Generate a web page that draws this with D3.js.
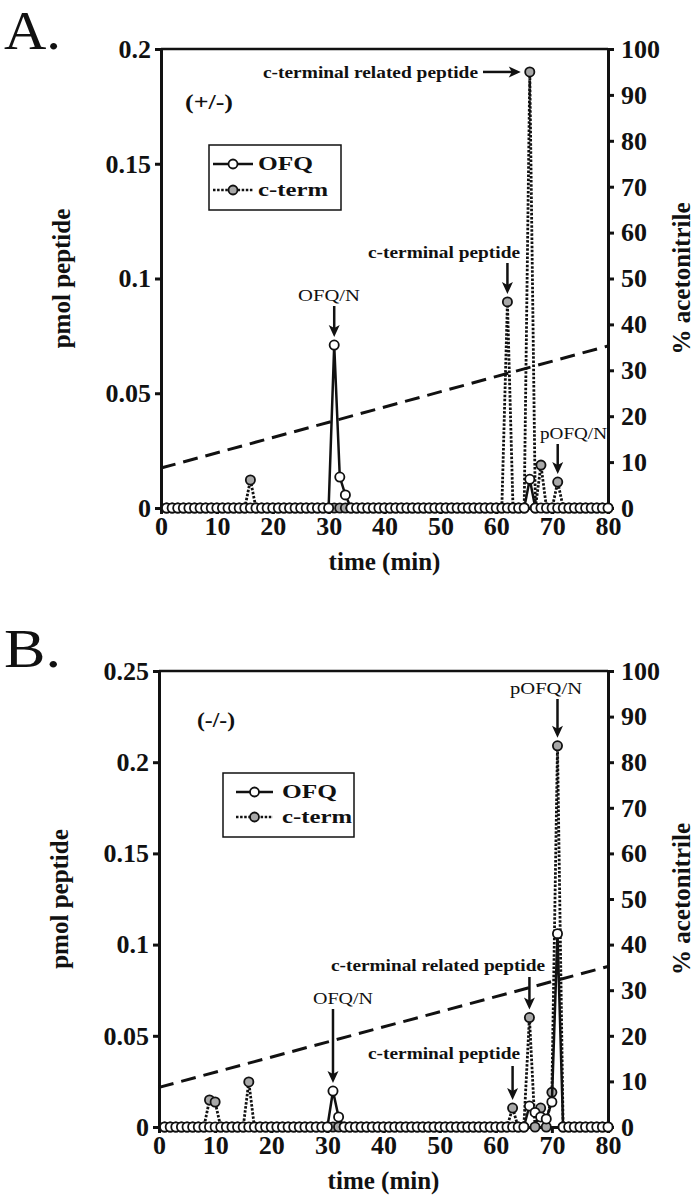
<!DOCTYPE html>
<meta charset="utf-8">
<style>
body { margin: 0; background: #fff; }
svg { display: block; background: #fff; }
text { font-family: "Liberation Serif", "Times New Roman", serif; fill: #111; }
.axis text { font-size: 26px; font-weight: bold; fill: #111; }
.axis path, .axis line { stroke: #111; }
</style>
<body>
<svg id="fig" width="697" height="1199"></svg>
<script src="https://d3js.org/d3.v7.min.js"></script>
<script>

// fraction times (min)
var minutes = [
  1, 2, 3, 4, 5, 6, 7, 8, 9, 10,
  11, 12, 13, 14, 15, 16, 17, 18, 19, 20,
  21, 22, 23, 24, 25, 26, 27, 28, 29, 30,
  31, 32, 33, 34, 35, 36, 37, 38, 39, 40,
  41, 42, 43, 44, 45, 46, 47, 48, 49, 50,
  51, 52, 53, 54, 55, 56, 57, 58, 59, 60,
  61, 62, 63, 64, 65, 66, 67, 68, 69, 70,
  71, 72, 73, 74, 75, 76, 77, 78, 79, 80
];

// panel A (+/-), pmol peptide
var ofqA = [
  0, 0, 0, 0, 0, 0, 0, 0, 0, 0,
  0, 0, 0, 0, 0, 0, 0, 0, 0, 0,
  0, 0, 0, 0, 0, 0, 0, 0, 0, 0,
  0.071, 0.0135, 0.0057, 0, 0, 0, 0, 0, 0, 0,
  0, 0, 0, 0, 0, 0, 0, 0, 0, 0,
  0, 0, 0, 0, 0, 0, 0, 0, 0, 0,
  0, 0, 0, 0, 0, 0.0125, 0, 0, 0, 0,
  0, 0, 0, 0, 0, 0, 0, 0, 0, 0
];
var ctermA = [
  0, 0, 0, 0, 0, 0, 0, 0, 0, 0,
  0, 0, 0, 0, 0, 0.0122, 0, 0, 0, 0,
  0, 0, 0, 0, 0, 0, 0, 0, 0, 0,
  0, 0, 0, 0, 0, 0, 0, 0, 0, 0,
  0, 0, 0, 0, 0, 0, 0, 0, 0, 0,
  0, 0, 0, 0, 0, 0, 0, 0, 0, 0,
  0, 0.0898, 0, 0, 0, 0.19, 0, 0.0187, 0, 0,
  0.0113, 0, 0, 0, 0, 0, 0, 0, 0, 0
];

// panel B (-/-)
var ofqB = [
  0, 0, 0, 0, 0, 0, 0, 0, 0, 0,
  0, 0, 0, 0, 0, 0, 0, 0, 0, 0,
  0, 0, 0, 0, 0, 0, 0, 0, 0, 0,
  0.0197, 0.0055, 0, 0, 0, 0, 0, 0, 0, 0,
  0, 0, 0, 0, 0, 0, 0, 0, 0, 0,
  0, 0, 0, 0, 0, 0, 0, 0, 0, 0,
  0, 0, 0, 0, 0, 0.0115, 0.008, 0.0055, 0.0044, 0.0137,
  0.106, 0, 0, 0, 0, 0, 0, 0, 0, 0
];
var ctermB = [
  0, 0, 0, 0, 0, 0, 0, 0, 0.0148, 0.0137,
  0, 0, 0, 0, 0, 0.0247, 0, 0, 0, 0,
  0, 0, 0, 0, 0, 0, 0, 0, 0, 0,
  0, 0, 0, 0, 0, 0, 0, 0, 0, 0,
  0, 0, 0, 0, 0, 0, 0, 0, 0, 0,
  0, 0, 0, 0, 0, 0, 0, 0, 0, 0,
  0, 0, 0.0104, 0, 0, 0.060, 0, 0.0104, 0, 0.019,
  0.209, 0, 0, 0, 0, 0, 0, 0, 0, 0
];

// acetonitrile gradient (% , right axis)
var gradTime = [0, 80];
var gradA = [8.7, 35.3];
var gradB = [8.7, 35.2];

var timeTicks = [0, 10, 20, 30, 40, 50, 60, 70, 80];
var pctTicks = [0, 10, 20, 30, 40, 50, 60, 70, 80, 90, 100];
var pmolTicksA = [0, 0.05, 0.1, 0.15, 0.2];
var pmolTicksB = [0, 0.05, 0.1, 0.15, 0.2, 0.25];

var svg = d3.select("#fig");

function drawPanel(cfg) {
  var x = d3.scaleLinear().domain([0, 80]).range([cfg.left, cfg.right]);
  var y = d3.scaleLinear().domain([0, cfg.yMax]).range([cfg.bottom, cfg.top]);
  var y2 = d3.scaleLinear().domain([0, 100]).range([cfg.bottom, cfg.top]);
  var g = svg.append("g");

  // panel letter
  g.append("text").attr("x", 4).attr("y", cfg.letterY)
    .style("font-size", "54px").attr("textLength", 57).attr("lengthAdjust", "spacingAndGlyphs")
    .text(cfg.letter);

  // frame top line
  g.append("line").attr("x1", cfg.left).attr("x2", cfg.right)
    .attr("y1", cfg.top).attr("y2", cfg.top)
    .attr("stroke", "#111").attr("stroke-width", 2.5);

  var fmt = function(d) { return d === 0 ? "0" : String(+d.toFixed(2)); };

  var ax = g.append("g").attr("class", "axis")
    .attr("transform", "translate(0," + cfg.bottom + ")")
    .call(d3.axisBottom(x).tickValues(timeTicks).tickSize(6).tickSizeOuter(0).tickPadding(3));
  var ay = g.append("g").attr("class", "axis")
    .attr("transform", "translate(" + cfg.left + ",0)")
    .call(d3.axisLeft(y).tickValues(cfg.yTicks).tickFormat(fmt).tickSize(6).tickSizeOuter(0).tickPadding(4));
  var ay2 = g.append("g").attr("class", "axis")
    .attr("transform", "translate(" + cfg.right + ",0)")
    .call(d3.axisRight(y2).tickValues(pctTicks).tickSize(6).tickSizeOuter(0).tickPadding(7));
  [ax, ay, ay2].forEach(function(a) {
    a.select(".domain").attr("stroke-width", 3);
    a.selectAll(".tick line").attr("stroke-width", 3);
  });

  // axis titles
  g.append("text")
    .attr("transform", "translate(" + cfg.yTitleX + "," + ((cfg.top + cfg.bottom) / 2) + ") rotate(-90)")
    .attr("text-anchor", "middle").style("font-size", "25px").style("font-weight", "bold")
    .text("pmol peptide");
  g.append("text")
    .attr("transform", "translate(" + cfg.y2TitleX + "," + ((cfg.top + cfg.bottom) / 2) + ") rotate(-90)")
    .attr("text-anchor", "middle").style("font-size", "25px").style("font-weight", "bold")
    .text("% acetonitrile");
  g.append("text")
    .attr("x", (cfg.left + cfg.right) / 2).attr("y", cfg.bottom + 62)
    .attr("text-anchor", "middle").style("font-size", "25px").style("font-weight", "bold")
    .text("time (min)");

  // genotype
  g.append("text").attr("x", cfg.genoX).attr("y", cfg.genoY)
    .style("font-size", "21px").style("font-weight", "bold")
    .attr("textLength", cfg.genoW).attr("lengthAdjust", "spacingAndGlyphs")
    .text(cfg.geno);

  // gradient
  var grad = gradTime.map(function(t, i) { return [t, cfg.grad[i]]; });
  g.append("path").datum(grad)
    .attr("fill", "none").attr("stroke", "#111").attr("stroke-width", 3)
    .attr("stroke-dasharray", "15,8")
    .attr("d", d3.line().x(function(d) { return x(d[0]); }).y(function(d) { return y2(d[1]); }));

  var line = d3.line().x(function(d) { return x(d[0]); }).y(function(d) { return y(d[1]); });
  var cterm = minutes.map(function(t, i) { return [t, cfg.cterm[i]]; });
  var ofq = minutes.map(function(t, i) { return [t, cfg.ofq[i]]; });

  // c-term: dotted line with grey dots
  g.append("path").datum(cterm)
    .attr("fill", "none").attr("stroke", "#111").attr("stroke-width", 2.8)
    .attr("stroke-dasharray", "2.5,1.6").attr("d", line);
  g.selectAll(".ct").data(cterm).enter().append("circle")
    .attr("cx", function(d) { return x(d[0]); })
    .attr("cy", function(d) { return y(d[1]); })
    .attr("r", 4.6).attr("fill", "#a8a8a8").attr("stroke", "#111").attr("stroke-width", 1.8);

  // OFQ: solid line with open dots
  g.append("path").datum(ofq)
    .attr("fill", "none").attr("stroke", "#111").attr("stroke-width", 2.5).attr("d", line);
  g.selectAll(".of").data(ofq).enter().append("circle")
    .attr("cx", function(d) { return x(d[0]); })
    .attr("cy", function(d) { return y(d[1]); })
    .attr("r", 4.6).attr("fill", "#fff").attr("stroke", "#111").attr("stroke-width", 1.8);

  // legend
  var L = cfg.legend;
  g.append("rect").attr("x", L.x).attr("y", L.y).attr("width", L.w).attr("height", L.h)
    .attr("fill", "#fff").attr("stroke", "#111").attr("stroke-width", 1.5);
  [["OFQ", "#fff", null, L.row1, 55], ["c-term", "#a8a8a8", "2.5,1.6", L.row2, 70]].forEach(function(r) {
    g.append("line").attr("x1", L.lx1).attr("x2", L.lx2).attr("y1", r[3]).attr("y2", r[3])
      .attr("stroke", "#111").attr("stroke-width", 2.5).attr("stroke-dasharray", r[2]);
    g.append("circle").attr("cx", (L.lx1 + L.lx2) / 2).attr("cy", r[3]).attr("r", 4.5)
      .attr("fill", r[1]).attr("stroke", "#111").attr("stroke-width", 1.8);
    g.append("text").attr("x", L.tx).attr("y", r[3] + 6)
      .style("font-size", "19px").style("font-weight", "bold")
      .attr("textLength", r[4]).attr("lengthAdjust", "spacingAndGlyphs")
      .text(r[0]);
  });

  // annotations with arrows
  cfg.notes.forEach(function(n) {
    g.append("text").attr("x", n.tx).attr("y", n.ty)
      .style("font-size", "17px").style("font-weight", n.bold ? "bold" : "normal")
      .attr("textLength", n.w).attr("lengthAdjust", "spacingAndGlyphs")
      .text(n.label);
    var tipX, tipY, x0, y0, dx, dy;
    if (n.horizontal) {
      tipX = x(n.t) - 9; tipY = y(n.v);
      x0 = n.from; y0 = tipY; dx = 1; dy = 0;
    } else {
      tipX = x(n.t); tipY = y(n.v) - 8;
      x0 = tipX; y0 = n.from; dx = 0; dy = 1;
    }
    var hl = 12, hw = 5.5;
    g.append("line").attr("x1", x0).attr("y1", y0)
      .attr("x2", tipX - dx * hl * 0.6).attr("y2", tipY - dy * hl * 0.6)
      .attr("stroke", "#111").attr("stroke-width", 2.5);
    var bx = tipX - dx * hl, by = tipY - dy * hl;
    g.append("path")
      .attr("d", "M" + tipX + "," + tipY + "L" + (bx - dy * hw) + "," + (by - dx * hw) +
        "L" + (bx + dx * 3) + "," + (by + dy * 3) +
        "L" + (bx + dy * hw) + "," + (by + dx * hw) + "Z")
      .attr("fill", "#111");
  });
}

drawPanel({
  letter: "A.", letterY: 49, geno: "(+/-)", genoX: 185, genoY: 109, genoW: 48,
  left: 161, right: 608, top: 49, bottom: 508, yMax: 0.2, yTicks: pmolTicksA,
  yTitleX: 70, y2TitleX: 690,
  ofq: ofqA, cterm: ctermA, grad: gradA,
  legend: { x: 209, y: 145, w: 132, h: 65, row1: 164, row2: 190, lx1: 213, lx2: 253, tx: 258 },
  notes: [
    { label: "c-terminal related peptide", bold: true, tx: 263, ty: 78, w: 215, horizontal: true, from: 483, t: 66, v: 0.19 },
    { label: "c-terminal peptide", bold: true, tx: 368, ty: 258, w: 152, t: 62, v: 0.0898, from: 263 },
    { label: "OFQ/N", tx: 298, ty: 301, w: 62, t: 31, v: 0.071, from: 306 },
    { label: "pOFQ/N", tx: 540, ty: 439, w: 67, t: 71, v: 0.0113, from: 444 }
  ]
});

drawPanel({
  letter: "B.", letterY: 667, geno: "(-/-)", genoX: 197, genoY: 727, genoW: 38,
  left: 159, right: 608, top: 671, bottom: 1127, yMax: 0.25, yTicks: pmolTicksB,
  yTitleX: 68, y2TitleX: 690,
  ofq: ofqB, cterm: ctermB, grad: gradB,
  legend: { x: 223, y: 773, w: 131, h: 64, row1: 792, row2: 817, lx1: 236, lx2: 273, tx: 282 },
  notes: [
    { label: "pOFQ/N", tx: 510, ty: 694, w: 72, t: 71, v: 0.209, from: 699 },
    { label: "c-terminal related peptide", bold: true, tx: 331, ty: 971, w: 214, t: 66, v: 0.06, from: 977 },
    { label: "OFQ/N", tx: 313, ty: 1004, w: 60, t: 31, v: 0.0197, from: 1009 },
    { label: "c-terminal peptide", bold: true, tx: 368, ty: 1059, w: 152, t: 63, v: 0.0104, from: 1066 }
  ]
});

</script>
</body>
